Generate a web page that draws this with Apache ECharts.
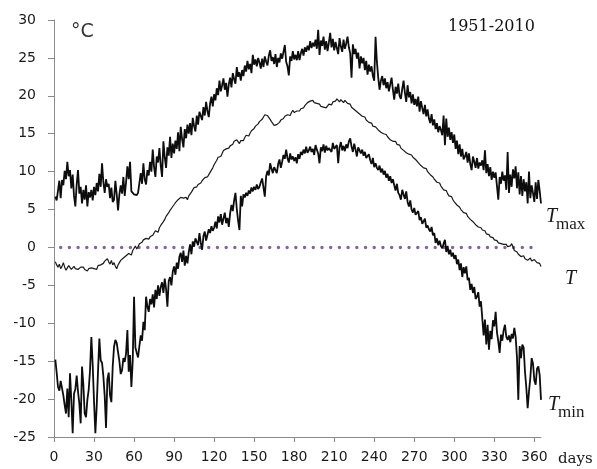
<!DOCTYPE html>
<html><head><meta charset="utf-8">
<script src="https://cdn.jsdelivr.net/npm/echarts@6/dist/echarts.min.js"></script>
<style>html,body{margin:0;padding:0;background:#fff}#c{width:597px;height:469px}</style>
</head><body><div id="c"></div>
<script>
var xTicks = [0,30,60,90,120,150,180,210,240,270,300,330,360];
var yTicks = [-25,-20,-15,-10,-5,0,5,10,15,20,25,30];
var zeroLineDays = [5,359];
var tmax = [
6.7,6.2,7.5,8.8,6.5,8.9,8.2,10.1,9.0,11.3,
9.4,10.2,7.8,9.6,6.8,5.4,8.3,10.2,7.1,8.0,
5.8,7.6,6.3,8.2,5.4,7.3,6.6,7.6,6.2,8.0,
6.9,8.5,7.4,9.7,8.0,11.1,8.6,7.2,9.0,8.0,
8.4,6.5,7.9,6.0,6.3,8.8,7.0,4.9,7.0,8.2,
7.1,9.3,6.8,8.6,10.7,9.0,11.3,7.4,7.2,7.0,
7.1,6.9,7.2,7.0,9.8,8.4,11.1,9.0,8.3,10.2,
9.5,11.3,10.0,12.9,10.6,9.3,12.0,11.2,13.1,10.8,
9.3,14.0,11.9,10.5,13.2,12.1,14.6,11.8,13.7,12.4,
14.1,13.0,15.2,12.7,15.9,14.3,13.2,15.6,14.4,16.2,
15.0,16.4,14.8,17.1,16.0,15.3,17.4,16.2,17.9,18.1,
16.8,18.5,17.4,19.2,18.0,17.2,19.0,19.9,18.6,20.2,
19.4,21.0,20.1,22.0,20.6,21.4,22.3,20.8,21.7,19.9,
21.5,22.4,21.1,23.0,22.2,21.6,23.8,22.5,23.1,22.0,
23.4,22.6,24.0,23.2,24.6,23.5,24.2,23.0,25.4,24.1,
24.8,23.9,25.0,24.4,23.6,24.9,23.8,25.2,24.5,24.0,
25.3,26.0,24.6,25.1,24.2,25.5,23.8,25.0,24.4,25.6,
24.9,25.8,26.7,24.5,23.9,22.7,25.2,24.6,25.9,24.8,
25.4,24.7,25.9,24.7,25.6,26.2,25.3,26.4,25.8,26.6,
26.0,27.2,26.3,27.0,26.5,27.4,26.2,28.7,25.4,27.3,
26.6,27.8,26.1,27.2,25.9,27.0,28.3,26.4,27.5,26.0,
27.1,26.3,25.5,27.6,26.5,25.8,27.4,26.2,26.9,27.8,
26.4,25.6,22.4,26.8,25.5,26.2,24.9,25.7,23.6,25.2,
24.3,25.0,23.4,24.6,22.8,24.1,23.2,23.9,22.6,22.0,
27.8,24.5,22.4,20.8,22.0,22.6,21.4,22.3,21.0,21.8,
20.6,21.5,22.4,20.8,19.5,21.2,20.3,21.6,20.0,19.6,
20.9,22.0,20.4,19.2,21.4,19.8,20.5,19.0,20.2,18.8,
19.6,18.6,19.9,17.9,19.3,18.4,17.6,18.8,17.3,18.2,
17.0,16.4,17.6,16.1,16.9,15.6,16.4,15.2,16.0,15.5,
14.8,17.4,13.5,17.0,14.6,15.8,14.2,15.2,13.8,14.9,
13.0,14.1,12.3,13.6,12.0,13.0,11.6,12.0,12.6,11.2,
12.4,11.0,10.2,12.0,11.3,10.5,11.8,10.4,11.2,10.8,
11.5,10.2,12.8,9.8,11.0,9.4,10.6,8.9,10.0,9.2,
9.9,8.1,6.3,9.3,8.4,10.0,8.8,9.5,7.6,12.6,
7.2,9.6,8.0,10.3,9.1,10.7,7.8,9.9,7.0,9.4,
6.8,9.0,7.4,8.6,5.8,10.0,6.5,8.2,7.2,6.0,
8.6,6.4,8.9,7.5,5.8
];
var tmean = [
-1.9,-2.3,-2.6,-2.2,-2.8,-2.5,-2.0,-2.6,-3.0,-2.7,
-2.4,-2.6,-2.9,-2.7,-2.5,-2.8,-3.0,-2.9,-2.7,-2.6,
-2.8,-2.6,-2.9,-2.7,-3.1,-2.8,-3.0,-2.7,-2.9,-2.8,
-2.6,-2.9,-2.4,-2.6,-2.3,-2.5,-2.1,-1.8,-2.0,-1.5,
-1.9,-2.2,-1.7,-2.3,-2.0,-2.5,-2.8,-2.3,-2.0,-1.7,
-1.9,-1.4,-1.6,-1.1,-1.3,-0.8,-0.6,-1.0,-0.4,-0.1,
0.2,-0.2,0.1,0.5,0.3,0.7,1.0,0.8,1.2,1.0,
1.1,1.4,1.2,1.6,1.9,2.2,2.3,2.0,2.6,2.9,
3.1,3.4,3.7,4.1,4.3,4.6,4.9,5.1,5.4,5.6,
5.9,6.1,6.3,6.5,6.6,6.7,6.5,6.3,6.6,6.3,
6.8,7.0,7.3,7.6,7.9,8.0,8.0,8.3,8.1,8.5,
8.8,9.0,9.2,9.0,9.3,9.6,9.8,10.2,10.5,10.9,
11.2,11.5,11.9,12.1,12.0,12.4,12.8,12.6,13.0,12.8,
13.1,13.4,13.2,13.6,14.0,13.8,14.2,14.0,13.7,14.1,
14.3,14.1,14.5,14.8,15.0,14.7,15.1,15.4,15.3,15.7,
16.0,15.8,16.3,16.6,16.4,16.9,17.2,17.5,17.7,17.4,
17.2,16.9,16.6,16.4,16.1,15.9,16.2,16.0,16.5,16.8,
16.6,17.0,17.3,17.1,17.5,17.7,17.4,17.8,18.1,17.8,
17.6,18.0,18.2,18.0,18.3,18.5,18.4,18.7,18.9,19.1,
19.0,19.3,19.2,19.4,19.1,19.3,19.0,18.8,18.9,18.6,
18.8,18.5,18.7,18.4,18.6,18.9,19.1,18.8,19.2,19.4,
19.3,19.6,19.4,19.2,19.5,19.3,19.1,19.4,19.2,19.0,
18.8,18.9,18.5,18.6,18.2,18.3,17.9,18.0,17.6,17.7,
17.3,17.1,17.2,16.8,16.9,16.5,16.3,16.4,16.0,16.2,
15.9,15.8,15.5,15.6,15.2,15.3,15.0,14.8,14.9,14.6,
14.5,14.2,14.4,14.0,13.8,14.0,13.6,13.4,13.5,13.1,
13.0,12.8,12.9,12.5,12.6,12.3,12.1,12.2,11.9,11.8,
11.6,11.5,11.2,11.0,10.8,10.9,10.5,10.3,10.4,10.0,
9.8,9.6,9.7,9.3,9.0,8.9,8.6,8.4,8.5,8.1,
7.9,7.6,7.4,7.5,7.1,6.8,6.6,6.7,6.3,6.0,
5.8,5.6,5.7,5.3,5.0,4.9,4.6,4.4,4.5,4.1,
3.9,3.7,3.8,3.4,3.2,3.0,3.1,2.7,2.5,2.6,
2.3,2.1,2.2,1.8,1.6,1.7,1.4,1.2,1.3,1.0,
0.8,0.9,0.6,0.4,0.5,0.7,0.4,0.2,0.4,0.1,
-0.1,0.2,0.5,0.1,-0.4,-0.2,-0.6,-0.9,-0.7,-1.2,
-1.4,-1.1,-1.5,-1.3,-1.7,-1.6,-1.4,-1.8,-1.9,-1.6,
-1.8,-2.0,-1.8,-2.1,-2.5
];
var tmin = [
-14.8,-16.5,-18.4,-18.9,-17.6,-17.8,-19.5,-20.8,-21.9,-18.6,
-22.4,-16.6,-20.2,-24.5,-19.3,-18.7,-16.9,-19.0,-20.6,-23.2,
-15.7,-18.1,-21.9,-22.4,-20.1,-18.8,-16.2,-11.8,-15.5,-20.3,
-24.5,-21.0,-16.3,-12.0,-14.9,-15.2,-17.0,-19.6,-23.8,-17.4,
-16.5,-19.5,-20.4,-15.7,-13.1,-12.2,-12.6,-13.8,-15.0,-16.7,
-16.2,-14.6,-15.1,-14.0,-10.9,-16.4,-14.2,-18.4,-15.0,-6.5,
-13.2,-13.9,-14.5,-13.0,-11.6,-12.3,-9.8,-10.9,-6.5,-7.8,
-8.5,-6.8,-7.5,-6.2,-7.9,-5.6,-6.8,-5.0,-6.4,-5.2,
-4.6,-6.0,-4.1,-5.5,-7.8,-4.4,-3.9,-5.0,-3.2,-2.5,
-3.6,-2.0,-2.8,-1.2,-0.7,-1.9,-0.4,-2.4,-1.1,-2.1,
-0.6,0.4,-0.9,0.8,0.1,1.2,1.4,0.3,1.9,0.6,
-0.3,1.5,2.1,0.9,1.0,2.4,1.9,2.8,2.2,2.6,
3.4,2.5,4.1,3.3,4.4,3.0,3.8,4.6,3.2,3.9,
2.7,4.5,5.6,4.8,6.2,7.2,5.1,3.5,2.3,6.8,
5.4,7.0,6.6,7.2,6.8,7.5,7.1,7.9,7.4,8.0,
7.6,8.3,7.7,8.0,8.6,9.1,7.9,6.7,9.4,10.1,
9.5,11.1,10.4,9.8,10.6,10.2,9.8,11.0,11.6,10.5,
11.3,12.2,11.7,12.9,11.8,11.2,12.4,11.6,12.0,11.4,
11.9,11.1,12.3,11.7,12.6,12.2,12.9,12.4,13.3,12.5,
12.8,13.3,12.6,13.0,12.2,13.5,12.9,12.4,11.1,13.2,
12.7,13.6,12.5,13.4,12.8,13.1,13.3,12.6,13.8,13.0,
12.9,13.5,11.1,13.2,13.9,12.8,13.4,12.7,13.6,13.1,
14.0,14.4,13.3,12.6,13.7,12.9,12.0,13.2,12.8,12.4,
12.9,12.1,12.6,11.8,11.6,12.3,11.5,11.0,11.8,10.6,
11.1,10.5,10.2,10.8,9.9,10.4,9.6,10.1,9.2,9.7,
8.8,9.4,8.5,9.0,8.2,7.5,8.4,7.2,6.9,6.3,
7.6,7.0,6.4,7.4,6.0,5.4,6.2,5.0,4.6,5.2,
4.3,4.1,4.8,3.6,4.0,3.1,3.2,3.8,2.6,2.9,
2.4,2.1,2.7,1.6,1.9,0.6,1.2,0.3,0.9,0.2,
-0.1,0.5,1.0,-0.6,0.2,-0.9,-0.3,-1.2,-0.7,-1.5,
-1.0,-2.2,-1.6,-3.0,-2.1,-3.9,-2.6,-3.4,-2.5,-4.3,
-4.0,-5.6,-4.8,-6.0,-5.2,-6.8,-6.5,-5.9,-7.8,-7.1,
-7.2,-11.6,-9.5,-12.8,-10.2,-13.5,-11.0,-12.1,-9.6,-10.4,
-8.5,-11.2,-12.4,-13.9,-11.5,-12.3,-10.9,-10.2,-11.8,-12.2,
-11.6,-12.5,-11.4,-12.0,-10.6,-11.8,-14.5,-20.1,-13.0,-14.6,
-12.8,-13.2,-16.4,-18.5,-21.2,-19.0,-17.2,-14.6,-15.3,-17.5,
-18.1,-16.0,-15.7,-16.8,-20.1
];

function toPairs(arr){ return arr.map(function(v,i){ return [i+1, v]; }); }

var chart = echarts.init(document.getElementById('c'), null, {renderer:'canvas'});
var axisColor = '#8a8a8a';
var labelFont = {color:'#1a1a1a', fontFamily:'DejaVu Sans', fontSize:14};
chart.setOption({
  animation:false,
  backgroundColor:'#fff',
  grid:{left:54, right:56, top:20, bottom:32, containLabel:false},
  xAxis:{
    type:'value', min:0, max:365,
    axisLine:{onZero:false, lineStyle:{color:axisColor, width:1}},
    axisTick:{show:true, inside:false, length:5, lineStyle:{color:axisColor}, customValues:xTicks},
    axisLabel:Object.assign({margin:13, customValues:xTicks}, labelFont),
    splitLine:{show:false}
  },
  yAxis:{
    type:'value', min:-25, max:30, interval:5,
    axisLine:{show:true, onZero:false, lineStyle:{color:axisColor, width:1}},
    axisTick:{show:true, inside:false, length:6, lineStyle:{color:axisColor}},
    axisLabel:Object.assign({margin:18}, labelFont),
    splitLine:{show:false}
  },
  series:[
    {type:'line', name:'zero', data:zeroLineDays.map(function(d){return [d,0];}), symbol:'none',
     lineStyle:{color:'#8064a2', width:3.4, type:[0.01,8.7], cap:'round'}, z:1},
    {type:'line', name:'Tmax', data:toPairs(tmax), symbol:'none', lineStyle:{color:'#0d0d0d', width:1.8}, z:3},
    {type:'line', name:'T', data:toPairs(tmean), symbol:'none', lineStyle:{color:'#1a1a1a', width:1.2}, z:3},
    {type:'line', name:'Tmin', data:toPairs(tmin), symbol:'none', lineStyle:{color:'#0d0d0d', width:1.8}, z:3}
  ],
  graphic:[
    {type:'text', left:71, top:23, style:{text:'°C', fill:'#333', font:'19px "DejaVu Sans"'}},
    {type:'text', left:448, top:19, style:{text:'1951-2010', fill:'#111', font:'16px "DejaVu Serif"'}},
    {type:'text', left:546, top:207, style:{text:'T', fill:'#1a1a1a', font:'italic 20px "Liberation Serif"'}},
    {type:'text', left:556, top:216, style:{text:'max', fill:'#1a1a1a', font:'17px "Liberation Serif"'}},
    {type:'text', left:565, top:269, style:{text:'T', fill:'#1a1a1a', font:'italic 20px "Liberation Serif"'}},
    {type:'text', left:548, top:395, style:{text:'T', fill:'#1a1a1a', font:'italic 20px "Liberation Serif"'}},
    {type:'text', left:558, top:404, style:{text:'min', fill:'#1a1a1a', font:'17px "Liberation Serif"'}},
    {type:'text', left:558, top:452, style:{text:'days', fill:'#1a1a1a', font:'15px "DejaVu Serif"'}}
  ]
});
</script></body></html>
